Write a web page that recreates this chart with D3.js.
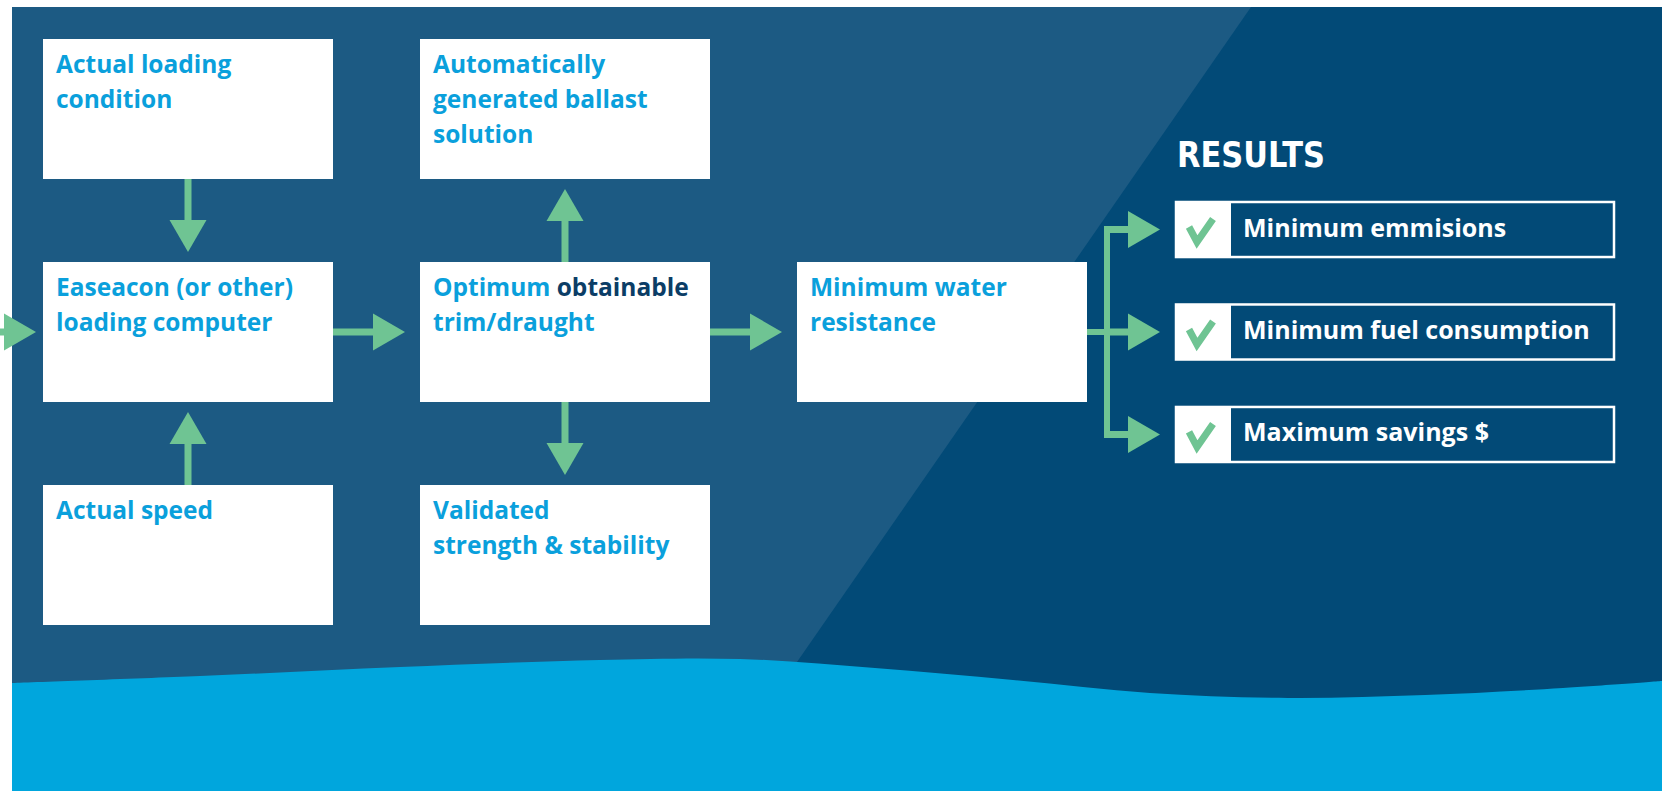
<!DOCTYPE html>
<html>
<head>
<meta charset="utf-8">
<script src="https://cdn.jsdelivr.net/npm/d3@7/dist/d3.min.js"></script>
<style>
  body { margin: 0; background: #fff; }
  svg { display: block; }
</style>
</head>
<body>
<div id="chart"></div>
<script>
const width = 1670, height = 791;

// flow boxes: id, grid column, grid row, text lines
const boxIds   = ["load", "ease", "speed", "ballast", "optimum", "valid", "water"];
const boxCols  = [0, 0, 0, 1, 1, 1, 2];
const boxRows  = [0, 1, 2, 0, 1, 2, 1];
const boxLines = [
  ["Actual loading", "condition"],
  ["Easeacon (or other)", "loading computer"],
  ["Actual speed"],
  ["Automatically", "generated ballast", "solution"],
  ["Optimum obtainable", "trim/draught"],
  ["Validated", "strength & stability"],
  ["Minimum water", "resistance"]
];
const darkWords = ["obtainable"];

// arrows between boxes (source -> target)
const linkFrom = ["input", "load", "speed", "ease", "optimum", "optimum", "optimum"];
const linkTo   = ["ease", "ease", "ease", "optimum", "ballast", "valid", "water"];

// results column
const resultsTitle = "RESULTS";
const results = ["Minimum emmisions", "Minimum fuel consumption", "Maximum savings $"];

// bottom wave outline (x, y)
const waveX = [12, 200, 400, 600, 740, 875, 1013, 1150, 1288, 1425, 1563, 1662];
const waveY = [683, 676, 667, 660, 659, 668, 680, 693, 698, 695, 688, 681];

const C = {
  panelLight: "#1c5a83",
  panelDark: "#024a77",
  wave: "#00a6dd",
  green: "#6fc493",
  text: "#0aa0dc",
  textDark: "#0b3d66",
  white: "#ffffff"
};

const svg = d3.select("#chart").append("svg")
  .attr("width", width).attr("height", height);

// ---- background
const px = d3.scaleLinear().domain([0, 1]).range([12, 1662]);
const py = d3.scaleLinear().domain([0, 1]).range([7, height]);

svg.append("rect").attr("width", width).attr("height", height).attr("fill", "#fff");
svg.append("rect")
  .attr("x", px(0)).attr("y", py(0))
  .attr("width", px(1) - px(0)).attr("height", py(1) - py(0))
  .attr("fill", C.panelDark);

// lighter slanted panel on the left
const slant = d3.scaleLinear().domain([7, 662]).range([1251, 797]);
svg.append("path")
  .attr("d", d3.line()([[px(0), py(0)], [slant(7), py(0)], [slant(height), height], [px(0), height]]) + "Z")
  .attr("fill", C.panelLight);

const wave = d3.area()
  .x((d, i) => waveX[i]).y0(height).y1((d, i) => waveY[i])
  .curve(d3.curveCatmullRom.alpha(0.5));
svg.append("path").datum(waveX).attr("d", wave).attr("fill", C.wave);

// ---- flow boxes
const boxW = 290, boxH = 140;
const x = d3.scaleLinear().domain([0, 2]).range([43, 797]);
const y = d3.scaleLinear().domain([0, 2]).range([39, 485]);

const boxes = boxIds.map((id, i) => ({
  id, lines: boxLines[i],
  x0: x(boxCols[i]), y0: y(boxRows[i]),
  x1: x(boxCols[i]) + boxW, y1: y(boxRows[i]) + boxH
}));
const byId = Object.fromEntries(boxes.map(b => [b.id, b]));

const fontBox = "'Open Sans', 'Noto Sans', sans-serif";
const gBox = svg.append("g").selectAll("g").data(boxes).join("g");
gBox.append("rect")
  .attr("x", d => d.x0).attr("y", d => d.y0)
  .attr("width", boxW).attr("height", boxH)
  .attr("fill", C.white);

gBox.each(function (d) {
  const t = d3.select(this).append("text")
    .attr("font-family", fontBox).attr("font-weight", 700)
    .attr("font-size", 24.5).attr("fill", C.text);
  d.lines.forEach((line, li) => {
    const words = line.split(" ");
    words.forEach((w, wi) => {
      const s = t.append("tspan")
        .text(w + (wi < words.length - 1 ? " " : ""))
        .attr("fill", darkWords.includes(w) ? C.textDark : C.text);
      if (wi === 0) s.attr("x", d.x0 + 13).attr("y", d.y0 + 34 + li * 35);
    });
  });
});

// ---- arrows
const headLen = 32, headHalf = 18.5, shaftW = 7;
function arrow(g, x1, y1, x2, y2) {
  const dx = x2 - x1, dy = y2 - y1, len = Math.hypot(dx, dy);
  const ux = dx / len, uy = dy / len;
  const bx = x2 - ux * headLen, by = y2 - uy * headLen;
  g.append("line")
    .attr("x1", x1).attr("y1", y1).attr("x2", bx + ux).attr("y2", by + uy)
    .attr("stroke", C.green).attr("stroke-width", shaftW);
  g.append("path")
    .attr("d", d3.line()([[x2, y2], [bx - uy * headHalf, by + ux * headHalf], [bx + uy * headHalf, by - ux * headHalf]]) + "Z")
    .attr("fill", C.green);
}

const gArrows = svg.append("g");
const gapV = 10, gapH = 15;
linkFrom.forEach((f, i) => {
  const t = byId[linkTo[i]];
  const tcy = (t.y0 + t.y1) / 2, tcx = (t.x0 + t.x1) / 2;
  if (f === "input") { arrow(gArrows, 0, tcy, t.x0 - 7, tcy); return; }
  const s = byId[f];
  if (boxCols[boxIds.indexOf(f)] === boxCols[boxIds.indexOf(linkTo[i])]) {
    if (s.y1 < t.y0) arrow(gArrows, tcx, s.y1, tcx, t.y0 - gapV);
    else arrow(gArrows, tcx, s.y0, tcx, t.y1 + gapV);
  } else {
    arrow(gArrows, s.x1, tcy, t.x0 - gapH, tcy);
  }
});

// ---- results
const resX0 = 1176, resX1 = 1614, checkW = 55;
const ry = d3.scaleBand().domain(results).range([202, 462]).paddingInner(0.463);
const water = byId.water;
const branchX = 1107;
const mids = results.map(r => ry(r) + ry.bandwidth() / 2);

gArrows.append("line")
  .attr("x1", water.x1).attr("x2", branchX + 3)
  .attr("y1", mids[1]).attr("y2", mids[1])
  .attr("stroke", C.green).attr("stroke-width", 6);
gArrows.append("line")
  .attr("x1", branchX).attr("x2", branchX)
  .attr("y1", d3.min(mids) - 3).attr("y2", d3.max(mids) + 3)
  .attr("stroke", C.green).attr("stroke-width", 6);
mids.forEach(m => arrow(gArrows, branchX - 3, m, resX0 - 16, m));

svg.append("text")
  .attr("x", resX0 + 1).attr("y", 167)
  .attr("font-family", "'DejaVu Sans', sans-serif").attr("font-weight", 700)
  .attr("font-size", 36).attr("textLength", 148).attr("lengthAdjust", "spacingAndGlyphs")
  .attr("fill", C.white).text(resultsTitle);

const gRes = svg.append("g").selectAll("g").data(results).join("g")
  .attr("transform", d => `translate(0,${ry(d)})`);
gRes.append("rect")
  .attr("x", resX0).attr("y", 0).attr("width", resX1 - resX0).attr("height", ry.bandwidth())
  .attr("fill", C.panelDark).attr("stroke", C.white).attr("stroke-width", 2.5);
gRes.append("rect")
  .attr("x", resX0).attr("y", 0).attr("width", checkW).attr("height", ry.bandwidth())
  .attr("fill", C.white);
gRes.append("path")
  .attr("d", d3.line()([[resX0 + 13, 25], [resX0 + 21, 40], [resX0 + 37, 17]]))
  .attr("fill", "none").attr("stroke", C.green).attr("stroke-width", 7)
  .attr("stroke-linejoin", "miter");
gRes.append("text")
  .attr("x", resX0 + 67).attr("y", ry.bandwidth() / 2 + 7)
  .attr("font-family", fontBox).attr("font-weight", 700).attr("font-size", 25)
  .attr("fill", C.white).text(d => d);
</script>
</body>
</html>
